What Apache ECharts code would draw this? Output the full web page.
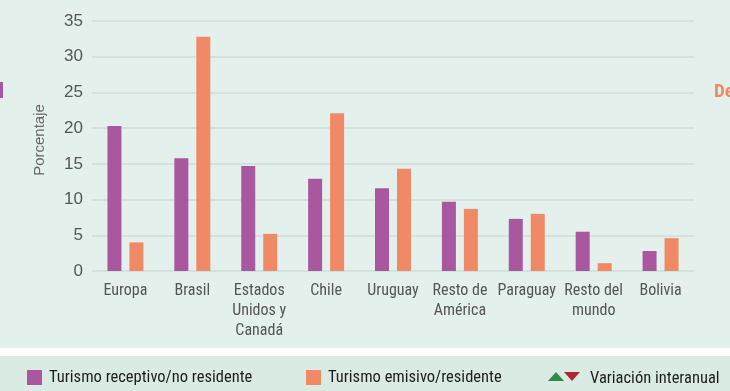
<!DOCTYPE html>
<html><head><meta charset="utf-8">
<script src="https://cdn.jsdelivr.net/npm/echarts@6/dist/echarts.min.js"></script>
<style>html,body{margin:0;padding:0;background:#e4f0ec;}#c{width:730px;height:391px;}</style>
</head><body><div id="c"></div>
<script>
var categories = ['Europa','Brasil','Estados\nUnidos y\nCanadá','Chile','Uruguay','Resto de\nAmérica','Paraguay','Resto del\nmundo','Bolivia'];
var receptivo = [20.3, 15.8, 14.7, 12.9, 11.6, 9.7, 7.3, 5.5, 2.8];
var emisivo = [4.0, 32.8, 5.2, 22.1, 14.3, 8.7, 8.0, 1.1, 4.6];
var yTicks = [0, 5, 10, 15, 20, 25, 30, 35];
var seriesNames = ['Turismo receptivo/no residente', 'Turismo emisivo/residente'];
var variacionLabel = 'Variación interanual';
var yName = 'Porcentaje';

var narrow = '"Liberation Sans Narrow", "Roboto Condensed", "Liberation Sans", sans-serif';
var chart = echarts.init(document.getElementById('c'));
chart.setOption({
  backgroundColor: '#e4f0ec',
  animation: false,
  grid: {left: 92, right: 36, top: 21, bottom: 120},
  legend: [
    {data: [seriesNames[0]], left: 27, top: 369, padding: 0, itemWidth: 15, itemHeight: 15, icon: 'rect', itemGap: 0,
     textStyle: {fontFamily: narrow, fontSize: 16.5, color: '#1e1e1e', padding: [3,0,0,2]}},
    {data: [seriesNames[1]], left: 306, top: 369, padding: 0, itemWidth: 15, itemHeight: 15, icon: 'rect', itemGap: 0,
     textStyle: {fontFamily: narrow, fontSize: 16.5, color: '#1e1e1e', padding: [3,0,0,2]}}
  ],
  xAxis: {
    type: 'category', data: categories,
    axisLine: {show: false}, axisTick: {show: false},
    axisLabel: {interval: 0, margin: 10, fontFamily: narrow, fontSize: 16, color: '#555', lineHeight: 20}
  },
  yAxis: {
    type: 'value', min: yTicks[0], max: yTicks[yTicks.length-1], interval: 5,
    name: yName, nameLocation: 'middle', nameGap: 45, nameRotate: 90,
    nameTextStyle: {fontFamily: '"Liberation Sans", Arial, sans-serif', fontSize: 15, color: '#666', padding: [0,0,0,12]},
    axisLine: {show: false}, axisTick: {show: false},
    axisLabel: {margin: 9, fontFamily: '"Liberation Sans", Arial, sans-serif', fontSize: 17, color: '#555'},
    splitLine: {lineStyle: {color: '#cfdcd8', width: 1.5}}
  },
  series: [
    {name: seriesNames[0], type: 'bar', data: receptivo, barWidth: 14, barGap: '57%', itemStyle: {color: '#a9579f'}},
    {name: seriesNames[1], type: 'bar', data: emisivo, barWidth: 14, barGap: '57%', itemStyle: {color: '#f08a66'}}
  ],
  graphic: [
    {type: 'rect', z: -1, shape: {x: 0, y: 348, width: 730, height: 8}, style: {fill: '#ffffff'}},
    {type: 'rect', z: -1, shape: {x: 0, y: 356, width: 730, height: 35}, style: {fill: '#d9ebe3'}},
    {type: 'rect', shape: {x: 0, y: 82, width: 3, height: 16}, style: {fill: '#a9579f'}},
    {type: 'text', left: 714, top: 83, style: {text: 'De', fill: '#ef8a66', font: 'bold 19px ' + narrow}},
    {type: 'polygon', shape: {points: [[548,381],[556,372],[564,381]]}, style: {fill: '#2e8b47'}},
    {type: 'polygon', shape: {points: [[564,372],[580,372],[572,381]]}, style: {fill: '#b2262a'}},
    {type: 'text', left: 590, top: 370, style: {text: variacionLabel, fill: '#1e1e1e', font: '16.5px ' + narrow}}
  ]
});
</script>
</body></html>
